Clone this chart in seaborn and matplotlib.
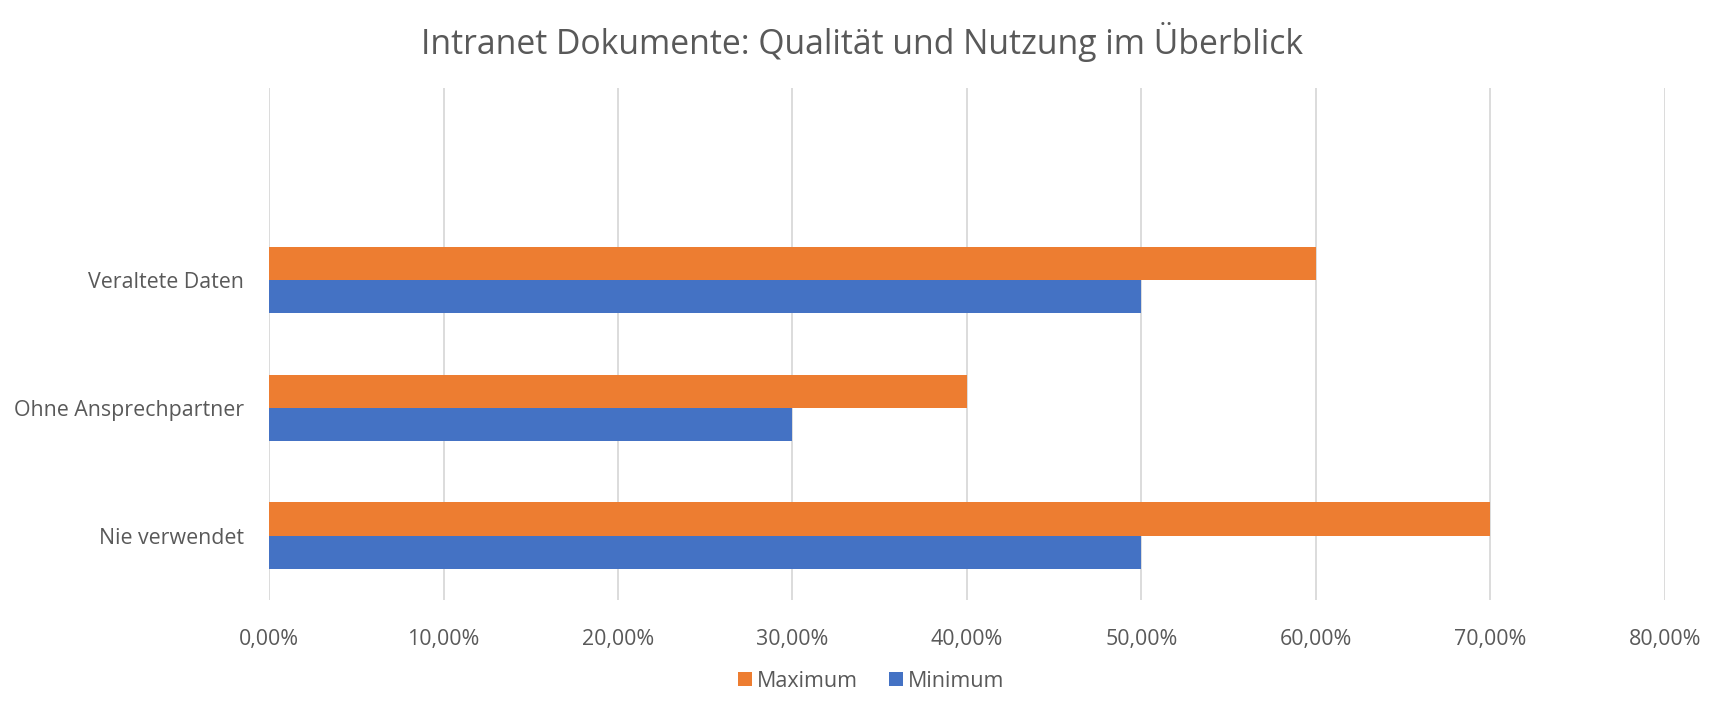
import pandas as pd
import matplotlib
matplotlib.use("Agg")
import matplotlib.pyplot as plt
import seaborn as sns
from matplotlib.ticker import FuncFormatter

# data
categories = ["Veraltete Daten", "Ohne Ansprechpartner", "Nie verwendet"]
maximum = [0.60, 0.40, 0.70]
minimum = [0.50, 0.30, 0.50]
series_names = ["Maximum", "Minimum"]
x_ticks = [0.0, 0.1, 0.2, 0.3, 0.4, 0.5, 0.6, 0.7, 0.8]

sns.set_theme(style="white")
plt.rcParams['font.family'] = ['Open Sans', 'DejaVu Sans']
text_col = '#595959'

df = pd.DataFrame({
    'Kategorie': categories * 2,
    'Wert': maximum + minimum,
    'Serie': [series_names[0]] * 3 + [series_names[1]] * 3,
})

fig = plt.figure(figsize=(17.25, 7.14), dpi=100)
ax = fig.add_axes([0.156, 0.160, 0.809, 0.717])

sns.barplot(data=df, y='Kategorie', x='Wert', hue='Serie', order=categories,
            hue_order=series_names, palette=['#ED7D31', '#4472C4'],
            width=0.52, orient='h', linewidth=0, saturation=1, ax=ax)

# empty slot on top, like the original
ax.set_ylim(2.5, -1.5)
ax.set_xlim(0, 0.8)
ax.set_xticks(x_ticks)
ax.xaxis.set_major_formatter(FuncFormatter(lambda v, p: f"{v*100:.2f}%".replace('.', ',')))
ax.grid(axis='x', color='#D9D9D9', linewidth=1.3)
ax.grid(axis='y', visible=False)
ax.set_axisbelow(True)
for s in ax.spines.values():
    s.set_visible(False)
ax.tick_params(axis='both', length=0, labelsize=15.4, labelcolor=text_col)
ax.tick_params(axis='x', pad=21)
ax.tick_params(axis='y', pad=18)
ax.set_xlabel('')
ax.set_ylabel('')

fig.text(0.5, 0.9415, 'Intranet Dokumente: Qualität und Nutzung im Überblick',
         fontsize=24.3, color=text_col, ha='center', va='center')

ax.get_legend().remove()
handles, labels = ax.get_legend_handles_labels()
fig.legend(handles, labels, loc='center', bbox_to_anchor=(0.505, 0.046), ncol=2,
           frameon=False, fontsize=15.5, labelcolor=text_col, handlelength=0.65,
           handleheight=0.65, handletextpad=0.25, columnspacing=1.4)

fig.savefig('out.png', dpi=100)
